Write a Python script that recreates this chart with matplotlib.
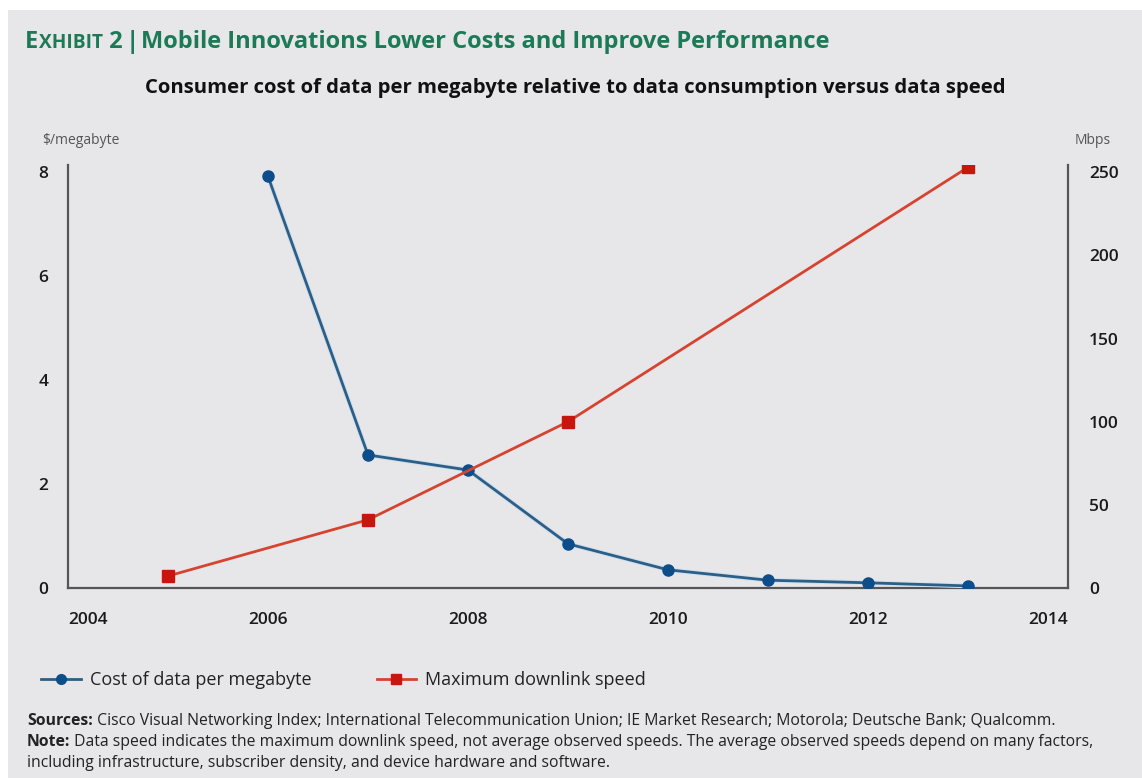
import matplotlib.pyplot as plt
import matplotlib.patheffects as pe
from matplotlib.patches import Rectangle
from matplotlib.lines import Line2D

cost_years = [2006, 2007, 2008, 2009, 2010, 2011, 2012, 2013]
cost_per_mb = [7.92, 2.56, 2.27, 0.85, 0.35, 0.15, 0.10, 0.04]
speed_years = [2005, 2007, 2009, 2013]
speed_mbps = [7.2, 41, 100, 253]
x_ticks = [2004, 2006, 2008, 2010, 2012, 2014]
left_ticks = [0, 2, 4, 6, 8]
right_ticks = [0, 50, 100, 150, 200, 250]

BG = '#e7e7e9'
GREEN = '#1d7a56'
BLUE_LINE = '#2b5f88'
BLUE_MARK = '#0d4d8a'
RED_LINE = '#d6442f'
RED_MARK = '#c8160f'
AXIS = '#555555'

plt.rcParams['font.family'] = ['Open Sans', 'DejaVu Sans']

W, H = 1142, 778
fig = plt.figure(figsize=(W / 100, H / 100), dpi=100, facecolor='white')
fig.patches.append(Rectangle((8 / W, 0), 1, (H - 10) / H, transform=fig.transFigure,
                             facecolor=BG, edgecolor='none', zorder=-10))

ax = fig.add_axes([68 / W, 190 / H, 1000 / W, 423 / H])
ax.set_facecolor('none')
ax2 = ax.twinx()

ymax_left = 8.14
ax.set_ylim(0, ymax_left)
ax2.set_ylim(0, ymax_left * 250 / 8)
ax.set_xlim(2004, 2014)

for a in (ax, ax2):
    for s in a.spines.values():
        s.set_visible(False)
    a.tick_params(length=0)
ax.spines['left'].set_visible(True)
ax.spines['bottom'].set_visible(True)
ax2.spines['right'].set_visible(True)
for s in (ax.spines['left'], ax.spines['bottom'], ax2.spines['right']):
    s.set_color(AXIS)
    s.set_linewidth(1.6)

tick_font = dict(fontsize=12.5, fontweight='semibold', color='#1a1a1a')
ax.set_xticks(x_ticks)
ax.set_xticklabels([str(t) for t in x_ticks], **tick_font)
ax.tick_params(axis='x', pad=17)
xl = ax.get_xticklabels()
xl[0].set_horizontalalignment('left')
xl[-1].set_horizontalalignment('right')

ax.set_yticks(left_ticks)
ax.set_yticklabels([str(t) for t in left_ticks], **tick_font)
ax.tick_params(axis='y', pad=14)
ax2.set_yticks(right_ticks)
ax2.set_yticklabels([str(t) for t in right_ticks], **tick_font)
ax2.tick_params(axis='y', pad=15)

# blue line gets a faint light halo, markers drawn without it
halo = [pe.Stroke(linewidth=3.4, foreground='#d0dfeb'), pe.Normal()]
ax.plot(cost_years, cost_per_mb, color=BLUE_LINE, lw=2, path_effects=halo, zorder=3)
ax.plot(cost_years, cost_per_mb, ls='none', marker='o', ms=8,
        mfc=BLUE_MARK, mec=BLUE_MARK, zorder=3)
ax2.plot(speed_years, speed_mbps, color=RED_LINE, lw=2, marker='s', ms=8,
         mfc=RED_MARK, mec=RED_MARK, zorder=4)

fig.text(42 / W, 1 - 140 / H, '$/megabyte', fontsize=10, color='#555555', va='center')
fig.text(1075 / W, 1 - 140 / H, 'Mbps', fontsize=10, color='#555555', va='center')

fig.text(575 / W, 1 - 88 / H,
         'Consumer cost of data per megabyte relative to data consumption versus data speed',
         fontsize=14.6, fontweight='bold', color='#111111', ha='center', va='center')

# exhibit title with small-caps look, pieces laid out side by side
renderer = fig.canvas.get_renderer()
x = 25
y = 1 - 48 / H
pieces = [('E', 17, 0.5), ('XHIBIT', 13.8, 0), (' 2', 17, 3), ('|', 17.5, 2),
          ('Mobile Innovations Lower Costs and Improve Performance', 17, 0)]
for txt, size, gap in pieces:
    t = fig.text(x / W, y, txt, fontsize=size, fontweight='bold', color=GREEN, va='baseline')
    x += t.get_window_extent(renderer).width + gap

# legend
handles = [Line2D([], [], color=BLUE_LINE, lw=2, marker='o', ms=7, mfc=BLUE_MARK, mec=BLUE_MARK),
           Line2D([], [], color=RED_LINE, lw=2, marker='s', ms=7, mfc=RED_MARK, mec=RED_MARK)]
fig.legend(handles, ['Cost of data per megabyte', 'Maximum downlink speed'],
           loc='center left', bbox_to_anchor=(25 / W, 1 - 680 / H), ncol=2, frameon=False,
           fontsize=13, handlelength=2.2, handletextpad=0.5, columnspacing=3.6,
           labelcolor='#222222')

# sources / note
NOTE_SIZE = 11.3


def mixed_line(xpx, ypx, bold, rest):
    t = fig.text(xpx / W, 1 - ypx / H, bold, fontsize=NOTE_SIZE, fontweight='bold',
                 color='#222222', va='center')
    w = t.get_window_extent(renderer).width
    fig.text((xpx + w) / W, 1 - ypx / H, rest, fontsize=NOTE_SIZE, color='#222222', va='center')


mixed_line(27, 721, 'Sources:', ' Cisco Visual Networking Index; International Telecommunication Union; '
           'IE Market Research; Motorola; Deutsche Bank; Qualcomm.')
mixed_line(27, 742, 'Note:', ' Data speed indicates the maximum downlink speed, not average observed speeds. '
           'The average observed speeds depend on many factors,')
fig.text(27 / W, 1 - 763 / H, 'including infrastructure, subscriber density, and device hardware and software.',
         fontsize=NOTE_SIZE, color='#222222', va='center')

fig.savefig('out.png', dpi=100, facecolor=fig.get_facecolor())
